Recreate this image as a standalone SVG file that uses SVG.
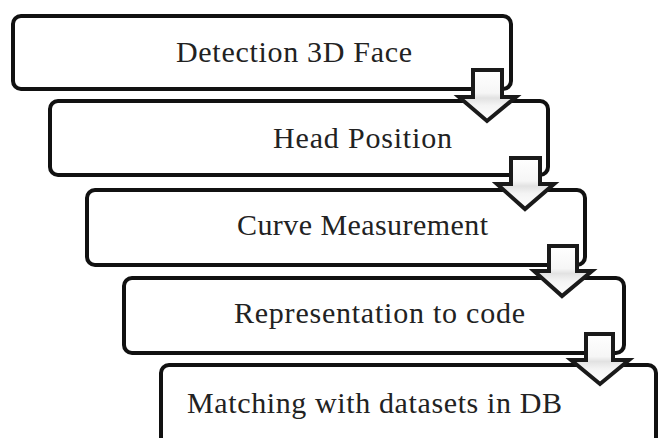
<svg xmlns="http://www.w3.org/2000/svg" width="660" height="438" viewBox="0 0 660 438">
<defs>
<linearGradient id="ag" x1="0" y1="0" x2="0" y2="1">
<stop offset="0" stop-color="#ffffff"/>
<stop offset="0.45" stop-color="#f6f6f6"/>
<stop offset="0.55" stop-color="#e2e2e2"/>
<stop offset="0.7" stop-color="#f4f4f4"/>
<stop offset="1" stop-color="#ffffff"/>
</linearGradient>
<style>
.box{fill:#ffffff;stroke:#111111;stroke-width:4;}
.arr{fill:url(#ag);stroke:#1a1a1a;stroke-width:4;stroke-linejoin:miter;}
</style>
</defs>
<rect width="660" height="438" fill="#ffffff"/>
<g id="node1">
<rect class="box" x="13" y="16" width="498" height="73" rx="8"/>
<text font-family="'Liberation Serif', serif" font-size="30" fill="#222222" x="176" y="62" textLength="236" lengthAdjust="spacing">Detection 3D Face</text>
</g>
<g id="node2">
<rect class="box" x="50" y="101" width="498" height="74" rx="8"/>
<text font-family="'Liberation Serif', serif" font-size="30" fill="#222222" x="273" y="148" textLength="179" lengthAdjust="spacing">Head Position</text>
</g>
<g id="node3">
<rect class="box" x="87" y="190" width="498" height="75" rx="8"/>
<text font-family="'Liberation Serif', serif" font-size="30" fill="#222222" x="237" y="235" textLength="251" lengthAdjust="spacing">Curve Measurement</text>
</g>
<g id="node4">
<rect class="box" x="124" y="278" width="500" height="75" rx="8"/>
<text font-family="'Liberation Serif', serif" font-size="30" fill="#222222" x="234" y="323" textLength="291" lengthAdjust="spacing">Representation to code</text>
</g>
<g id="node5">
<rect class="box" x="161" y="365" width="495" height="95" rx="8"/>
<text font-family="'Liberation Serif', serif" font-size="30" fill="#222222" x="187" y="413" textLength="375" lengthAdjust="spacing">Matching with datasets in DB</text>
</g>
<g id="connectors">
<polygon class="arr" points="473,70 502,70 502,97 516,97 487,121 459,97 473,97"/>
<polygon class="arr" points="511,158 540,158 540,184 554,184 525,209 497,184 511,184"/>
<polygon class="arr" points="549,246 577,246 577,271 592,271 562,296 534,271 549,271"/>
<polygon class="arr" points="586,334 613,334 613,360 629,360 600,384 571,360 586,360"/>
</g>
</svg>
